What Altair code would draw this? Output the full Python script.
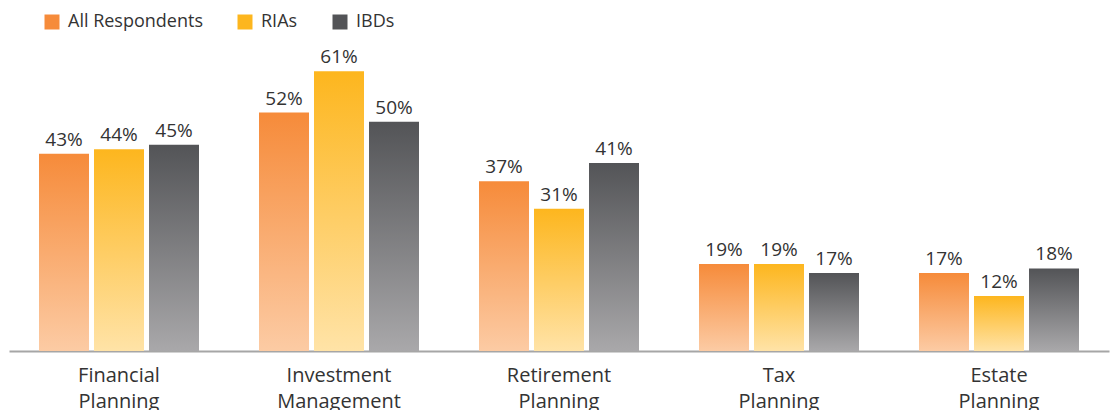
import altair as alt
import pandas as pd

categories = ["Financial Planning", "Investment Management", "Retirement Planning",
              "Tax Planning", "Estate Planning"]
series = ["All Respondents", "RIAs", "IBDs"]
all_respondents = [43, 52, 37, 19, 17]
rias = [44, 61, 31, 19, 12]
ibds = [45, 50, 41, 17, 18]

top_colors = ["#F68B3A", "#FDB61E", "#535457"]
bottom_colors = ["#FCCBA4", "#FFE3A7", "#A9A8AA"]

rows = []
for name, vals in zip(series, [all_respondents, rias, ibds]):
    for c, v in zip(categories, vals):
        rows.append({"category": c, "series": name, "value": v, "label": f"{v}%"})
df = pd.DataFrame(rows)

FONT = "Open Sans"

x_enc = alt.X(
    "category:N", sort=categories, title=None,
    scale=alt.Scale(paddingInner=60 / 220, paddingOuter=30 / 220),
    axis=alt.Axis(labelExpr="split(datum.label, ' ')", ticks=False,
                  domainColor="#A6A6A6", domainWidth=2, labelAngle=0,
                  labelFont=FONT, labelFontSize=20, labelColor="#333333",
                  labelPadding=14, labelLineHeight=26),
)
xo_enc = alt.XOffset("series:N", sort=series,
                     scale=alt.Scale(domain=series, paddingInner=5 / 55, paddingOuter=0))
y_enc = alt.Y("value:Q", scale=alt.Scale(domain=[0, 76.55], nice=False), axis=None)

base = alt.Chart(df)

layers = []
for name, top, bot in zip(series, top_colors, bottom_colors):
    grad = alt.Gradient(
        gradient="linear",
        stops=[alt.GradientStop(color=top, offset=0), alt.GradientStop(color=bot, offset=1)],
        x1=0, x2=0, y1=0, y2=1,
    )
    layers.append(
        base.transform_filter(alt.datum.series == name)
        .mark_bar(color=grad)
        .encode(x=x_enc, xOffset=xo_enc, y=y_enc)
    )

legend_layer = base.mark_square(opacity=0, size=1).encode(
    x=x_enc, xOffset=xo_enc, y=y_enc,
    color=alt.Color("series:N", sort=series,
                    scale=alt.Scale(domain=series, range=top_colors),
                    legend=alt.Legend(title=None, orient="none", direction="horizontal",
                                      legendX=34, legendY=13, symbolType="square",
                                      symbolSize=225, symbolOpacity=1, symbolStrokeWidth=0,
                                      labelFont=FONT, labelFontSize=18, labelColor="#333333",
                                      labelOffset=7, columnPadding=33)),
)

text_layer = base.mark_text(baseline="alphabetic", dy=-8, font=FONT, fontSize=19,
                            color="#333333").encode(
    x=x_enc, xOffset=xo_enc, y=y_enc, text="label:N")

chart = alt.layer(*layers, legend_layer, text_layer).properties(
    width=1100, height=351,
    autosize=alt.AutoSizeParams(type="none"),
    padding={"left": 9, "top": 0, "right": 7, "bottom": 59},
    background="white",
).configure_view(stroke=None)

chart.save("out.html", embed_options={"renderer": "svg", "actions": False})
